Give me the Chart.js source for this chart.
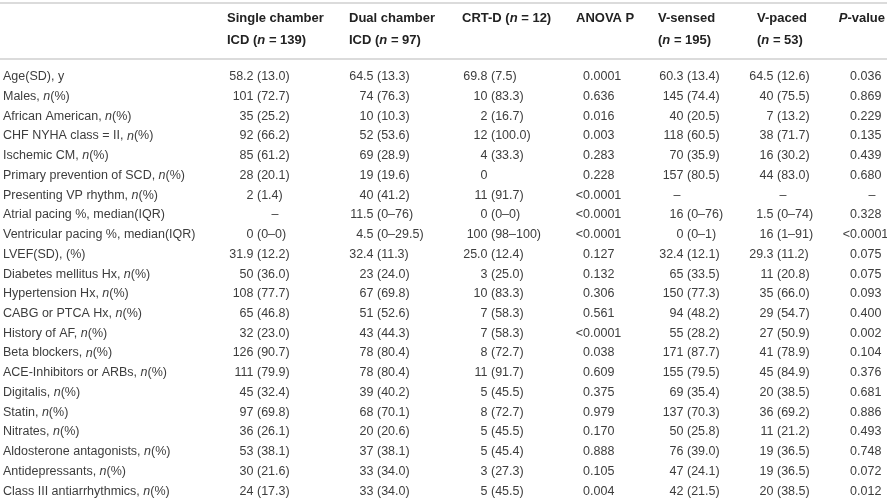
<!DOCTYPE html>
<html>
<head>
<meta charset="utf-8">
<script src="https://cdn.jsdelivr.net/npm/chart.js@4.4.1/dist/chart.umd.min.js"></script>
<style>
  html, body { margin: 0; padding: 0; background: #fff; }
  canvas { display: block; }
</style>
</head>
<body>
<canvas id="tbl" width="887" height="502"></canvas>
<script>
// rows of the table (_x_ = italic)
const rowLabels = [
  "Age(SD), y",
  "Males, _n_(%)",
  "African American, _n_(%)",
  "CHF NYHA class = II, _n_(%)",
  "Ischemic CM, _n_(%)",
  "Primary prevention of SCD, _n_(%)",
  "Presenting VP rhythm, _n_(%)",
  "Atrial pacing %, median(IQR)",
  "Ventricular pacing %, median(IQR)",
  "LVEF(SD), (%)",
  "Diabetes mellitus Hx, _n_(%)",
  "Hypertension Hx, _n_(%)",
  "CABG or PTCA Hx, _n_(%)",
  "History of AF, _n_(%)",
  "Beta blockers, _n_(%)",
  "ACE-Inhibitors or ARBs, _n_(%)",
  "Digitalis, _n_(%)",
  "Statin, _n_(%)",
  "Nitrates, _n_(%)",
  "Aldosterone antagonists, _n_(%)",
  "Antidepressants, _n_(%)",
  "Class III antiarrhythmics, _n_(%)"
];

const singleChamber = ["58.2 (13.0)", "101 (72.7)", "35 (25.2)", "92 (66.2)", "85 (61.2)", "28 (20.1)", "2 (1.4)", "–", "0 (0–0)", "31.9 (12.2)", "50 (36.0)", "108 (77.7)", "65 (46.8)", "32 (23.0)", "126 (90.7)", "111 (79.9)", "45 (32.4)", "97 (69.8)", "36 (26.1)", "53 (38.1)", "30 (21.6)", "24 (17.3)"];
const dualChamber = ["64.5 (13.3)", "74 (76.3)", "10 (10.3)", "52 (53.6)", "69 (28.9)", "19 (19.6)", "40 (41.2)", "11.5 (0–76)", "4.5 (0–29.5)", "32.4 (11.3)", "23 (24.0)", "67 (69.8)", "51 (52.6)", "43 (44.3)", "78 (80.4)", "78 (80.4)", "39 (40.2)", "68 (70.1)", "20 (20.6)", "37 (38.1)", "33 (34.0)", "33 (34.0)"];
const crtD = ["69.8 (7.5)", "10 (83.3)", "2 (16.7)", "12 (100.0)", "4 (33.3)", "0", "11 (91.7)", "0 (0–0)", "100 (98–100)", "25.0 (12.4)", "3 (25.0)", "10 (83.3)", "7 (58.3)", "7 (58.3)", "8 (72.7)", "11 (91.7)", "5 (45.5)", "8 (72.7)", "5 (45.5)", "5 (45.4)", "3 (27.3)", "5 (45.5)"];
const anovaP = ["0.0001", "0.636", "0.016", "0.003", "0.283", "0.228", "<0.0001", "<0.0001", "<0.0001", "0.127", "0.132", "0.306", "0.561", "<0.0001", "0.038", "0.609", "0.375", "0.979", "0.170", "0.888", "0.105", "0.004"];
const vSensed = ["60.3 (13.4)", "145 (74.4)", "40 (20.5)", "118 (60.5)", "70 (35.9)", "157 (80.5)", "–", "16 (0–76)", "0 (0–1)", "32.4 (12.1)", "65 (33.5)", "150 (77.3)", "94 (48.2)", "55 (28.2)", "171 (87.7)", "155 (79.5)", "69 (35.4)", "137 (70.3)", "50 (25.8)", "76 (39.0)", "47 (24.1)", "42 (21.5)"];
const vPaced = ["64.5 (12.6)", "40 (75.5)", "7 (13.2)", "38 (71.7)", "16 (30.2)", "44 (83.0)", "–", "1.5 (0–74)", "16 (1–91)", "29.3 (11.2)", "11 (20.8)", "35 (66.0)", "29 (54.7)", "27 (50.9)", "41 (78.9)", "45 (84.9)", "20 (38.5)", "36 (69.2)", "11 (21.2)", "19 (36.5)", "19 (36.5)", "20 (38.5)"];
const pValue = ["0.036", "0.869", "0.229", "0.135", "0.439", "0.680", "–", "0.328", "<0.0001", "0.075", "0.075", "0.093", "0.400", "0.002", "0.104", "0.376", "0.681", "0.886", "0.493", "0.748", "0.072", "0.012"];

const columnHeads = [
  ["Single chamber", "ICD (_n_ = 139)"],
  ["Dual chamber", "ICD (_n_ = 97)"],
  ["CRT-D (_n_ = 12)"],
  ["ANOVA P"],
  ["V-sensed", "(_n_ = 195)"],
  ["V-paced", "(_n_ = 53)"],
  ["_P_-value"]
];

// layout: x positions on the linear x scale (0..887)
const columns = [
  { values: singleChamber, head: 227, anchor: 257, align: "paren", dash: 275 },
  { values: dualChamber,   head: 349, anchor: 377, align: "paren", dash: 377 },
  { values: crtD,          head: 462, anchor: 491, align: "paren", dash: 491 },
  { values: anovaP,        head: 576, anchor: 590, align: "dec",   dash: 600 },
  { values: vSensed,       head: 658, anchor: 687, align: "paren", dash: 677 },
  { values: vPaced,        head: 757, anchor: 777, align: "paren", dash: 783 },
  { values: pValue,        head: -885, anchor: 857, align: "dec",  dash: 872 }  // negative = right edge
];

const FONT = '"Liberation Sans", Arial, sans-serif';
const bodySize = 12.5;
const headSize = 13;

function segs(str) {
  return str.split("_").map((t, i) => ({ t, it: i % 2 === 1 })).filter(s => s.t);
}

function richWidth(ctx, str, size, bold) {
  let w = 0;
  segs(str).forEach(s => {
    ctx.font = (s.it ? "italic " : "") + (bold ? "bold " : "") + size + "px " + FONT;
    w += ctx.measureText(s.t).width;
  });
  return w;
}

function richText(ctx, str, x, y, size, bold, color) {
  ctx.fillStyle = color;
  ctx.textAlign = "left";
  ctx.textBaseline = "middle";
  segs(str).forEach(s => {
    ctx.font = (s.it ? "italic " : "") + (bold ? "bold " : "") + size + "px " + FONT;
    ctx.fillText(s.t, x, y);
    x += ctx.measureText(s.t).width;
  });
}

const tablePlugin = {
  id: "tableCells",
  afterDraw(chart) {
    const ctx = chart.ctx;
    const xs = chart.scales.x;
    const ys = chart.scales.y;
    const txt = "#3d3d3d";
    ctx.save();

    // rules
    ctx.strokeStyle = "#cfcfcf";
    ctx.lineWidth = 1.6;
    [3, 59].forEach(y => {
      ctx.beginPath();
      ctx.moveTo(xs.getPixelForValue(0), y);
      ctx.lineTo(xs.getPixelForValue(887), y);
      ctx.stroke();
    });

    // header
    columns.forEach((c, i) => {
      columnHeads[i].forEach((line, k) => {
        let hx = xs.getPixelForValue(Math.abs(c.head));
        if (c.head < 0) hx -= richWidth(ctx, line, headSize, true);
        richText(ctx, line, hx, 18 + k * 22, headSize, true, "#222");
      });
    });

    // body
    ctx.font = bodySize + "px " + FONT;
    const sp = ctx.measureText(" ").width;
    rowLabels.forEach((lab, r) => {
      const y = ys.getPixelForValue(r);
      richText(ctx, lab, xs.getPixelForValue(3), y, bodySize, false, txt);
      columns.forEach(c => {
        const v = c.values[r];
        ctx.font = bodySize + "px " + FONT;
        ctx.fillStyle = txt;
        ctx.textBaseline = "middle";
        if (v === "–") {
          ctx.textAlign = "center";
          ctx.fillText(v, xs.getPixelForValue(c.dash), y);
          return;
        }
        const ax = xs.getPixelForValue(c.anchor);
        let pre, post;
        if (c.align === "paren") {
          const k = v.indexOf(" (");
          pre = k >= 0 ? v.slice(0, k) : v;
          post = k >= 0 ? v.slice(k + 1) : "";
          ctx.textAlign = "right";
          ctx.fillText(pre, ax - sp, y);
        } else {
          const k = v.indexOf(".");
          pre = v.slice(0, k);
          post = v.slice(k);
          ctx.textAlign = "right";
          ctx.fillText(pre, ax, y);
        }
        if (post) {
          ctx.textAlign = "left";
          ctx.fillText(post, ax, y);
        }
      });
    });
    ctx.restore();
  }
};

new Chart(document.getElementById("tbl"), {
  type: "scatter",
  data: { labels: rowLabels, datasets: [] },
  options: {
    responsive: false,
    animation: false,
    devicePixelRatio: 1,
    layout: { padding: { top: 67, bottom: 1, left: 0, right: 0 } },
    plugins: { legend: { display: false }, tooltip: { enabled: false } },
    scales: {
      x: { type: "linear", min: 0, max: 887, display: false },
      y: { type: "category", labels: rowLabels, offset: true, display: false }
    }
  },
  plugins: [tablePlugin]
});
</script>
</body>
</html>
